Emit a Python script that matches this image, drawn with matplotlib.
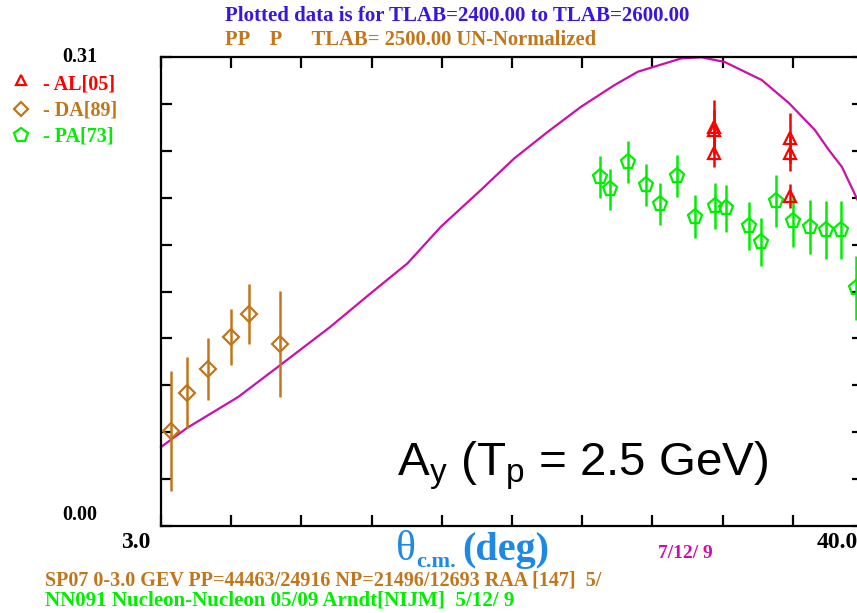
import matplotlib
matplotlib.use("Agg")
import matplotlib.pyplot as plt

# ---- data ----
curve_x = [3.0, 4.37, 7.07, 9.29, 11.93, 14.05, 15.99, 17.75, 19.86, 21.62, 23.39,
           25.15, 26.91, 28.14, 30.43, 31.49, 32.71, 34.66, 36.09, 37.46, 38.20,
           38.89, 39.79, 40.0]
curve_y = [0.0522, 0.0648, 0.0853, 0.1064, 0.1317, 0.1538, 0.1736, 0.1978, 0.2221,
           0.2430, 0.2606, 0.2772, 0.2915, 0.3003, 0.3091, 0.3098, 0.3067, 0.2948,
           0.2796, 0.2618, 0.2485, 0.2373, 0.2135, 0.2056]

al_x = [32.14, 32.14, 32.14, 36.16, 36.16, 36.16]
al_y = [0.2637, 0.2618, 0.2463, 0.2567, 0.2463, 0.2183]
al_err = [0.0178, 0.0132, 0.0093, 0.0165, 0.0119, 0.0079]

da_x = [3.51, 4.36, 5.50, 6.70, 7.65, 9.29]
da_y = [0.0630, 0.0881, 0.1038, 0.1247, 0.1401, 0.1201]
da_err = [0.0397, 0.0236, 0.0205, 0.0185, 0.0198, 0.0350]

pa_x = [26.12, 26.68, 27.62, 28.58, 29.32, 30.22, 31.14, 32.19, 32.76, 34.01,
        34.61, 35.42, 36.30, 37.21, 38.03, 38.85, 39.63]
pa_y = [0.2305, 0.2226, 0.2408, 0.2254, 0.2126, 0.2316, 0.2045, 0.2115, 0.2100,
        0.1983, 0.1875, 0.2148, 0.2016, 0.1978, 0.1957, 0.1957, 0.1571]
pa_err = [0.0139, 0.0136, 0.0139, 0.0139, 0.0139, 0.0139, 0.0141, 0.0155, 0.0154,
          0.0159, 0.0158, 0.0172, 0.0174, 0.0178, 0.0191, 0.0191, 0.0211]

x_min, x_max = 3.0, 40.0
y_min, y_max = 0.0, 0.31
x_tick_labels = ["3.0", "40.0"]
y_tick_labels = ["0.00", "0.31"]
legend_labels = ["- AL[05]", "- DA[89]", "- PA[73]"]

# ---- colours ----
RED = "#ff0000"
BROWN = "#c0761a"
GREEN = "#00ee00"
MAGENTA = "#cc0fa8"
TITLE_BLUE = "#3a14e0"
AX_BLUE = "#1e88e5"

W, H = 857, 613
fig = plt.figure(figsize=(W / 100, H / 100), dpi=100)

def fx(px):
    return px / W

def fy(py):
    return 1 - py / H

left, right, top, bottom = 161, 863, 57, 526
ax = fig.add_axes([fx(left), fy(bottom), (right - left) / W, (bottom - top) / H])
ax.set_xlim(x_min, x_max)
ax.set_ylim(y_min, y_max)
for s in ax.spines.values():
    s.set_linewidth(1.6)
    s.set_color("black")

xt = [x_min + i * (x_max - x_min) / 10 for i in range(11)]
yt = [y_min + i * (y_max - y_min) / 10 for i in range(11)]
ax.set_xticks(xt)
ax.set_yticks(yt)
ax.tick_params(direction="in", length=8, width=1.6, top=True, right=True,
               labelbottom=False, labelleft=False)

ax.plot(curve_x, curve_y, color=MAGENTA, lw=1.6, zorder=2, clip_on=False)

ax.errorbar(da_x, da_y, yerr=da_err, fmt="D", ms=8, mfc="none", mec=BROWN,
            mew=1.6, ecolor=BROWN, elinewidth=1.8, capsize=0, zorder=3)
ax.errorbar(pa_x, pa_y, yerr=pa_err, fmt="p", ms=11, mfc="none", mec=GREEN,
            mew=1.6, ecolor=GREEN, elinewidth=1.8, capsize=0, zorder=3)
ax.errorbar(al_x, al_y, yerr=al_err, fmt="^", ms=8, mfc="none", mec=RED,
            mew=1.6, ecolor=RED, elinewidth=1.8, capsize=0, zorder=4)

# big annotation, baseline at y=475 px
fig.text(fx(397), fy(475), r"A$_\mathregular{y}$ (T$_\mathregular{p}$ = 2.5 GeV)",
         fontsize=34.2, family="Liberation Sans", ha="left", va="baseline",
         color="black")

serif = "Liberation Serif"
# tick labels
fig.text(fx(97), fy(57), y_tick_labels[1], ha="right", va="center",
         fontsize=14.5, family=serif, weight="bold")
fig.text(fx(97), fy(515), y_tick_labels[0], ha="right", va="center",
         fontsize=14.5, family=serif, weight="bold")
fig.text(fx(150), fy(542), x_tick_labels[0], ha="right", va="center",
         fontsize=17, family=serif, weight="bold")
fig.text(fx(817), fy(542), x_tick_labels[1], ha="left", va="center",
         fontsize=17, family=serif, weight="bold")

# axis label
fig.text(fx(396), fy(560), "θ", ha="left", va="baseline", fontsize=30,
         family=serif, color=AX_BLUE)
fig.text(fx(416), fy(567), "c.m.", ha="left", va="baseline", fontsize=16,
         family=serif, weight="bold", color=AX_BLUE)
fig.text(fx(462), fy(560), "(deg)", ha="left", va="baseline", fontsize=29,
         family=serif, weight="bold", color=AX_BLUE)

fig.text(fx(658), fy(554), "7/12/ 9", ha="left", va="center", fontsize=14,
         family=serif, weight="bold", color=MAGENTA)

# titles
fig.text(fx(225), fy(16), "Plotted data is for TLAB=2400.00 to TLAB=2600.00",
         ha="left", va="center", fontsize=15, family=serif, weight="bold",
         color=TITLE_BLUE)
fig.text(fx(225), fy(40), "PP    P      TLAB= 2500.00 UN-Normalized",
         ha="left", va="center", fontsize=14.9, family=serif, weight="bold",
         color=BROWN)

# footer
fig.text(fx(45), fy(581),
         "SP07 0-3.0 GEV PP=44463/24916 NP=21496/12693 RAA [147]  5/",
         ha="left", va="center", fontsize=14.5, family=serif, weight="bold",
         color=BROWN)
fig.text(fx(45), fy(601), "NN091 Nucleon-Nucleon 05/09 Arndt[NIJM]  5/12/ 9",
         ha="left", va="center", fontsize=15.1, family=serif, weight="bold",
         color=GREEN)

# legend
leg_my = [80, 109, 135]
leg_ty = [84, 110, 137]
leg_m = ["^", "D", "p"]
leg_c = [RED, BROWN, GREEN]
leg_ms = [7, 7, 10]
for lab, my, ty, m, c, ms in zip(legend_labels, leg_my, leg_ty, leg_m, leg_c, leg_ms):
    fig.lines.append(plt.Line2D([fx(20.5)], [fy(my)], marker=m, ms=ms, mfc="none",
                                mec=c, mew=1.6, transform=fig.transFigure,
                                linestyle="none"))
    fig.text(fx(43), fy(ty), lab, ha="left", va="center", fontsize=14.5,
             family=serif, weight="bold", color=c)

fig.savefig("out.png", dpi=100)
